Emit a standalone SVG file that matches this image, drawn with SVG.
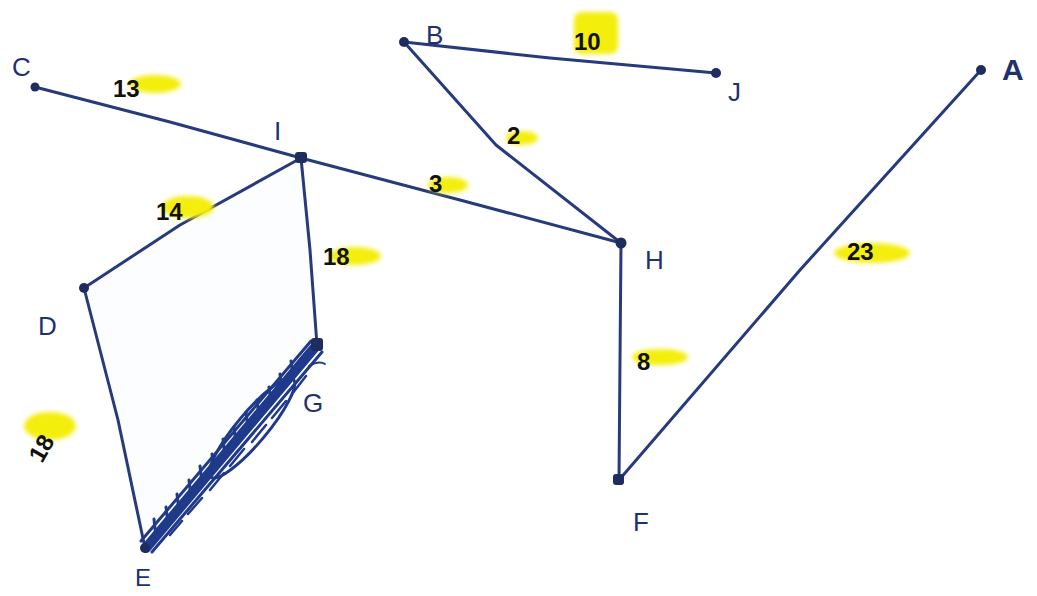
<svg xmlns="http://www.w3.org/2000/svg" width="1037" height="596" viewBox="0 0 1037 596">
<defs>
<filter id="soft" x="-20%" y="-40%" width="140%" height="180%"><feGaussianBlur stdDeviation="2"/></filter>
<style>
.edge{stroke:#263a7c;stroke-width:3;fill:none;stroke-linecap:round;stroke-linejoin:round}
.dot{fill:#1f2c5e}
.lbl{font-family:"Liberation Sans",Arial,sans-serif;font-size:26px;fill:#1f3170}
.num{font-family:"Liberation Sans",Arial,sans-serif;font-size:24px;font-weight:bold;fill:#111}
.hl{fill:#f4ee10;filter:url(#soft)}
.scr{stroke:#1f3a8a;fill:none;stroke-linecap:round}
</style>
</defs>
<rect width="1037" height="596" fill="#ffffff"/>
<polygon points="84,288 301,158 317,345 145,548" fill="#fcfdff"/>
<g id="connectors">
<polyline class="edge" points="35,87 170,122 301,158"/>
<polyline class="edge" points="301,158 460,200 621,243"/>
<polyline class="edge" points="404,42 550,58 716,73"/>
<polyline class="edge" points="404,42 496,145 621,243"/>
<polyline class="edge" points="301,158 180,225 84,288"/>
<polyline class="edge" points="301,158 310,250 317,345"/>
<polyline class="edge" points="84,288 118,420 145,548"/>
<polyline class="edge" points="621,243 620,360 619,480"/>
<polyline class="edge" points="619,480 800,270 981,70"/>
<g id="edge-EG">
<line class="scr" x1="146" y1="548" x2="316" y2="346" stroke-width="10"/>
<line class="scr" x1="152" y1="552" x2="322" y2="352" stroke-width="3"/>
<line class="scr" x1="141" y1="541" x2="311" y2="341" stroke-width="3"/>
<ellipse class="scr" cx="252" cy="428" rx="64" ry="15" transform="rotate(-50 252 428)" stroke-width="3"/>
<path class="scr" stroke-width="3" d="M156,538 l-2,-19 M168,524 l-2,-17 M179,511 l-2,-17 M191,497 l-2,-17 M202,483 l-2,-17 M214,471 l-2,-17 M225,457 l-2,-18 M236,444 l-2,-17 M248,429 l-2,-17 M259,417 l-2,-17 M271,403 l-2,-16 M282,389 l-2,-15 M293,376 l-2,-15"/>
<path class="scr" stroke-width="2.5" d="M170,535 l12,-14 M188,514 l14,-16 M210,490 l14,-17 M230,466 l14,-17 M252,442 l14,-17 M272,418 l14,-17 M292,394 l14,-18"/>
<path class="scr" stroke-width="2" d="M309,366 q10,-6 16,-2"/>
</g>
</g>
<g id="node-C"><circle class="dot" cx="35" cy="87" r="4.5"/><text class="lbl" x="12" y="76">C</text></g>
<g id="node-I"><rect class="dot" x="295" y="152" width="12" height="11" rx="3"/><text class="lbl" x="274" y="140">I</text></g>
<g id="node-B"><circle class="dot" cx="404" cy="42" r="5"/><text class="lbl" x="426" y="44">B</text></g>
<g id="node-J"><circle class="dot" cx="716" cy="73" r="5"/><text class="lbl" x="728" y="101">J</text></g>
<g id="node-A"><circle class="dot" cx="981" cy="70" r="5"/><text class="lbl" x="1002" y="80" style="font-weight:bold;font-size:30px">A</text></g>
<g id="node-H"><circle class="dot" cx="621" cy="243" r="5.5"/><text class="lbl" x="645" y="269">H</text></g>
<g id="node-D"><circle class="dot" cx="84" cy="288" r="5"/><text class="lbl" x="38" y="335">D</text></g>
<g id="node-G"><rect class="dot" x="311" y="338" width="12" height="13" rx="3"/><text class="lbl" x="303" y="412">G</text></g>
<g id="node-E"><circle class="dot" cx="145" cy="548" r="5"/><text class="lbl" x="135" y="586" style="font-size:24px">E</text></g>
<g id="node-F"><rect class="dot" x="613" y="474" width="11" height="11" rx="3"/><text class="lbl" x="633" y="531">F</text></g>
<g id="labels">
<ellipse class="hl" cx="155" cy="84" rx="26" ry="9"/><text class="num" x="113" y="97">13</text>
<rect class="hl" x="574" y="12" width="44" height="42" rx="8"/><text class="num" x="574" y="50">10</text>
<ellipse class="hl" cx="522" cy="138" rx="16" ry="7"/><text class="num" x="507" y="144">2</text>
<ellipse class="hl" cx="448" cy="185" rx="20" ry="8"/><text class="num" x="429" y="192">3</text>
<ellipse class="hl" cx="188" cy="207" rx="26" ry="11"/><text class="num" x="156" y="220">14</text>
<ellipse class="hl" cx="355" cy="256" rx="26" ry="9"/><text class="num" x="323" y="265">18</text>
<ellipse class="hl" cx="50" cy="426" rx="26" ry="14"/><text class="num" transform="rotate(-60 42 448)" x="28" y="456">18</text>
<ellipse class="hl" cx="660" cy="357" rx="28" ry="8"/><text class="num" x="637" y="370">8</text>
<ellipse class="hl" cx="872" cy="253" rx="38" ry="10"/><text class="num" x="847" y="260">23</text>
</g>
</svg>
